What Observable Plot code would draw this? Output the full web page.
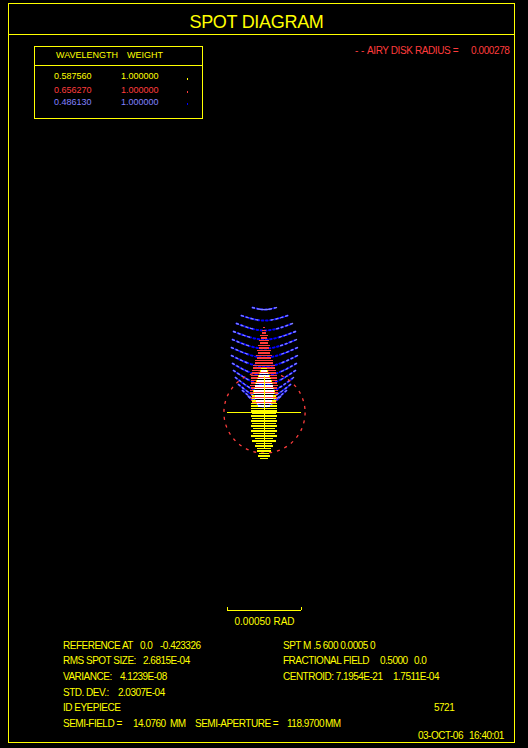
<!DOCTYPE html>
<html><head><meta charset="utf-8">
<script src="https://cdn.jsdelivr.net/npm/d3@7"></script>
<script src="https://cdn.jsdelivr.net/npm/@observablehq/plot@0.6"></script>
<style>
html,body{margin:0;padding:0;background:#000;}
#page{position:relative;width:528px;height:748px;overflow:hidden;background:#000;font-family:"Liberation Sans",Arial,sans-serif;}
.t{position:absolute;white-space:pre;}
.box{position:absolute;box-sizing:border-box;border:1px solid #ffff00;}
.hl{position:absolute;height:1px;background:#ffff00;}
#plot{position:absolute;left:0;top:0;}
</style></head><body><div id="page"></div>
<script>
// ---- values (spot coordinates in microradians relative to the reference point) ----
const YELLOW = "#ffff00", RED = "#ff3c3c", LBLUE = "#8080ff", DBLUE = "#0000ff";

const wavelengths = ["0.587560", "0.656270", "0.486130"];
const weights = ["1.000000", "1.000000", "1.000000"];
const waveColors = [YELLOW, RED, LBLUE];
const waveDotColors = [YELLOW, RED, DBLUE];

const airyRadius = 278;          // µrad  (0.000278)
const airyLabel = "0.000278";
const scaleBarLength = 500;      // µrad  (0.00050 RAD)
const scaleBarLabel = "0.00050 RAD";

// yellow (0.587560) ray rows: y and half-width
const yellowRowY    = [301,284,267,250,233,216,199,182,164,147,130,113,96,79,62,45,27,10,-7,-24,-41,-58,-75,-92,-110,-127,-144,-161,-178,-195,-212,-229,-247,-264,-281,-298,-315];
const yellowRowHalf = [21,27,34,41,48,55,62,65,68,72,75,79,82,82,86,86,86,86,82,86,82,89,82,92,75,89,72,86,65,79,58,65,45,48,31,38,24];

// overlap rows (drawn white where all colours coincide)
const whiteRowY    = [284,267,250,233,216,199,182,164,147,130,113,96,79,62,45];
const whiteRowHalf = [20,27,34,41,48,55,62,65,68,68,65,62,55,48,38];

// red (0.656270) ray rows
const redRowY    = [582,562,545,527,510,493,476,459,442,425,408,390,373,356,339,322,305,288,271,253,236,219,202,185,168,151,134,116,99,82,65,48];
const redRowHalf = [10,17,15,24,21,31,27,38,34,45,41,55,50,65,60,75,72,82,79,89,86,92,89,96,92,96,94,92,89,86,82,75];

// blue (0.486130) ray arcs: end height, half-width, middle height
const blueArcEndY = [719,664,610,555,500,445,390,336,288,240,192,151,110];
const blueArcHalf = [82,158,192,212,219,226,226,219,212,199,178,151,110];
const blueArcMidY = [705,630,562,500,438,377,315,253,192,137,96,62,41];

// texts
const statsLeft = [
  [["REFERENCE AT",63],["0.0",140],["-0.423326",160]],
  [["RMS SPOT SIZE:",63],["2.6815E-04",143]],
  [["VARIANCE:",63],["4.1239E-08",120]],
  [["STD. DEV.:",63],["2.0307E-04",118]],
  [["ID EYEPIECE",63]],
  [["SEMI-FIELD =",63],["14.0760",133],["MM",170],["SEMI-APERTURE =",195],["118.9700",287],["MM",325]]
];
const statsRight = [
  [["SPT M .5 600 0.0005 0",283]],
  [["FRACTIONAL FIELD",283],["0.5000",380],["0.0",414]],
  [["CENTROID: 7.1954E-21",283],["1.7511E-04",393]],
  [],
  [["5721",434]],
  []
];
const statBaselines = [649,664.5,680,696,711,727];
const footer = [["03-OCT-06",418],["16:40:01",469]];

// ---- page furniture ----
const page = document.getElementById("page");
function el(cls, css){ const d=document.createElement("div"); d.className=cls; Object.assign(d.style, css); page.appendChild(d); return d; }
function put(str, x, base, color, size=10, ls=-0.5){
  const d = el("t", {left:x+"px", top:(base-0.8465*size)+"px", color, fontSize:size+"px", lineHeight:size+"px", letterSpacing:ls+"px"});
  d.textContent = str; return d;
}
el("box", {left:"8px", top:"3px", width:"507px", height:"740px"});
el("hl", {left:"8px", top:"34px", width:"507px"});
const title = el("t", {left:"0px", width:"513px", textAlign:"center", top:(28-0.8465*18)+"px", color:YELLOW, fontSize:"18px", lineHeight:"18px", letterSpacing:"-0.3px"});
title.textContent = "SPOT DIAGRAM";

// legend
el("box", {left:"34px", top:"46px", width:"169px", height:"73px"});
el("hl", {left:"34px", top:"65px", width:"169px"});
put("WAVELENGTH", 56, 59, YELLOW, 9, 0);
put("WEIGHT", 127, 59, YELLOW, 9, 0);
const legendBase = [80, 93.5, 105.5];
wavelengths.forEach((w,i)=>{
  put(w, 54, legendBase[i], waveColors[i], 9, 0);
  put(weights[i], 121, legendBase[i], waveColors[i], 9, 0);
  el("t", {left:"187px", top:(legendBase[i]-2.5)+"px", width:"1px", height:"2px", background:waveDotColors[i]});
});

put("- -", 355, 54, RED, 10, 0);
put("AIRY DISK RADIUS =", 367, 54, RED, 10, -0.4);
put(airyLabel, 471, 54, RED, 10, -0.4);

statsLeft.forEach((row,i)=>row.forEach(([s,x])=>put(s,x,statBaselines[i],YELLOW)));
statsRight.forEach((row,i)=>row.forEach(([s,x])=>put(s,x,statBaselines[i],YELLOW)));
footer.forEach(([s,x])=>put(s,x,739,YELLOW));

// ---- plot ----
const rows = (ys, hs) => ys.map((y,i)=>({y, x1:-hs[i], x2:hs[i]}));
// each arc: curve through left end -> middle -> right end, traced in both directions
const arcs = [], arcsBack = [];
blueArcEndY.forEach((e,i)=>{
  const pts = [{x:-blueArcHalf[i], y:e}, {x:0, y:blueArcMidY[i]}, {x:blueArcHalf[i], y:e}];
  pts.forEach(p=>arcs.push({arc:i, ...p}));
  pts.slice().reverse().forEach(p=>arcsBack.push({arc:i, ...p}));
});
const xDomain = [-1808, 1808], yDomain = [-2301, 2822];
const W = 528, H = 748;
const pxPerUnit = W/(xDomain[1]-xDomain[0]);
const half = scaleBarLength/2;
const barY = -1356, barTickY = -1332;
const endDashes = "2,3,2,3,2,3,2,400";

const chart = Plot.plot({
  width: W, height: H, margin: 0,
  x: {domain: xDomain, axis: null},
  y: {domain: yDomain, axis: null},
  style: {background: "transparent", fontFamily: "Liberation Sans, Arial, sans-serif", fontSize: "10px"},
  marks: [
    Plot.line(arcs, {x:"x", y:"y", z:"arc", curve:"natural", stroke:DBLUE, strokeWidth:2, strokeDasharray:"1.6,2.6"}),
    Plot.line(arcs, {x:"x", y:"y", z:"arc", curve:"natural", stroke:LBLUE, strokeWidth:1.4, strokeDasharray:endDashes}),
    Plot.line(arcsBack, {x:"x", y:"y", z:"arc", curve:"natural", stroke:LBLUE, strokeWidth:1.4, strokeDasharray:endDashes}),
    Plot.ruleY(rows(redRowY, redRowHalf), {y:"y", x1:"x1", x2:"x2", stroke:RED, strokeWidth:1.5, shapeRendering:"crispEdges"}),
    Plot.dot([{x:0,y:0}], {x:"x", y:"y", r: airyRadius*pxPerUnit, stroke:RED, fill:"none", strokeWidth:1.3, strokeDasharray:"3,5"}),
    Plot.ruleY(rows(yellowRowY, yellowRowHalf), {y:"y", x1:"x1", x2:"x2", stroke:YELLOW, strokeWidth:1.5, shapeRendering:"crispEdges"}),
    Plot.ruleY(rows(whiteRowY, whiteRowHalf), {y:"y", x1:"x1", x2:"x2", stroke:"#ffffff", strokeWidth:1.5, shapeRendering:"crispEdges"}),
    Plot.ruleY([{y:0, x1:-half, x2:half}], {y:"y", x1:"x1", x2:"x2", stroke:YELLOW, strokeWidth:1, shapeRendering:"crispEdges"}),
    Plot.ruleX([{x:0, y1:-half, y2:half}], {x:"x", y1:"y1", y2:"y2", stroke:YELLOW, strokeWidth:1, shapeRendering:"crispEdges"}),
    // scale bar
    Plot.ruleY([{y:barY, x1:-half, x2:half}], {y:"y", x1:"x1", x2:"x2", stroke:YELLOW, strokeWidth:1, shapeRendering:"crispEdges"}),
    Plot.ruleX([{x:-half, y1:barY, y2:barTickY},{x:half, y1:barY, y2:barTickY}], {x:"x", y1:"y1", y2:"y2", stroke:YELLOW, strokeWidth:1, shapeRendering:"crispEdges"}),
    Plot.text([{x:0, y:barY, t:scaleBarLabel}], {x:"x", y:"y", text:"t", dy:11, fill:YELLOW, fontSize:10})
  ]
});
chart.id = "plot";
page.appendChild(chart);
</script></body></html>
